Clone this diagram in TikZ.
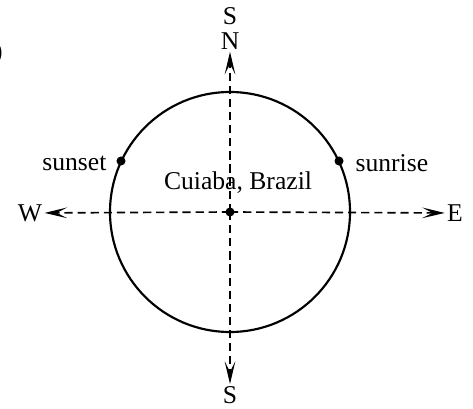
\documentclass[tikz,border=0pt]{standalone}
\usepackage{fontspec}
\setmainfont{Liberation Serif}
\usetikzlibrary{arrows.meta,positioning}

\begin{document}
\begin{tikzpicture}[
  x=0.488pt, y=-0.488pt,
  font=\fontsize{12.5}{15}\selectfont,
  label/.style={inner sep=1pt},
  axis/.style={-{Stealth[length=11pt, width=5.2pt, inset=5pt]},
               line width=0.8pt, dash pattern=on 4pt off 2.4pt},
  orbit/.style={draw, line width=1.05pt},
  dot/.style={circle, fill, inner sep=0pt, minimum size=4.4pt}
]
\useasboundingbox (0,0) rectangle (473,408);
\node[anchor=east, inner sep=0pt] (paren) at (3,53) {)};

\coordinate (c) at (230,212);
\draw[orbit] (c) circle[radius=120];

\node[label] (N) at (230,41) {N};
\node[label, above=1.5pt of N] (Stop) {S};
\node[label] (S) at (230,395) {S};
\node[label] (W) at (30,213) {W};
\node[label] (E) at (455,213) {E};

\draw[axis] (c) -- (N);
\draw[axis] (c) -- (S);
\draw[axis] (c) -- (W);
\draw[axis] (c) -- (E);

\node[dot] (centre) at (c) {};
\node[dot] (rise) at (339,161) {};
\node[dot] (set) at (121,161) {};
\node[label, right=4.5pt of rise, yshift=-1pt] (risetext) {sunrise};
\node[label, left=3.5pt of set, yshift=-1pt] (settext) {sunset};
\node[label] (city) at (238,183) {Cuiaba, Brazil};
\end{tikzpicture}
\end{document}
